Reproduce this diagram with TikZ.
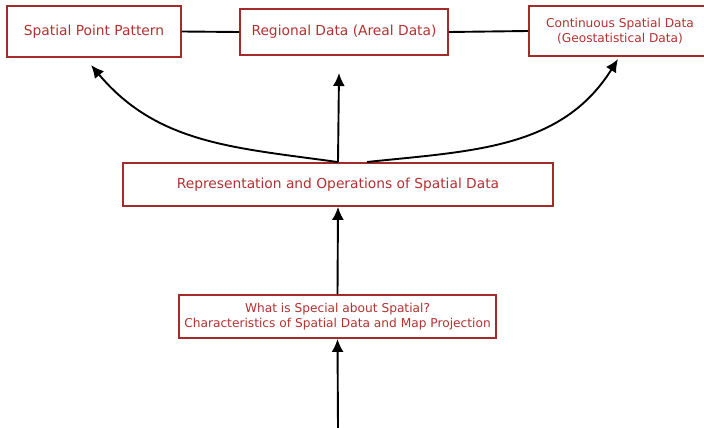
\documentclass[tikz,border=0pt]{standalone}
\usepackage{fontspec}
\setmainfont{DejaVu Sans}
\usetikzlibrary{arrows.meta}

\definecolor{boxred}{RGB}{165,42,42}
\definecolor{textred}{RGB}{178,48,48}

\begin{document}
\begin{tikzpicture}[x=1pt, y=-1pt,
  topic/.style={draw=boxred, line width=1.8pt, text=textred, inner sep=0pt, align=center},
  big/.style={font=\fontsize{13.8}{16}\selectfont},
  small/.style={font=\fontsize{12.2}{15.5}\selectfont},
  link/.style={line width=1.9pt, black},
  up/.style={link, -{Latex[length=13pt,width=12pt]}}]

  % 枠
  \useasboundingbox (0,0) rectangle (704,428);

  % 上段
  \node[topic, big, minimum width=174pt, minimum height=51pt] (spp) at (94,31.5) {Spatial Point Pattern};
  \node[topic, big, minimum width=208pt, minimum height=46pt] (areal) at (344,32) {Regional Data (Areal Data)};
  \node[topic, small, minimum width=182pt, minimum height=50pt] (geo) at (620,31) {Continuous Spatial Data\\(Geostatistical Data)};

  % 中段・下段
  \node[topic, big, minimum width=430pt, minimum height=43pt] (rep) at (338,184.5) {Representation and Operations of Spatial Data};
  \node[topic, small, minimum width=317pt, minimum height=43pt] (special) at (337.5,316.5) {What is Special about Spatial?\\Characteristics of Spatial Data and Map Projection};

  % 点
  \coordinate (start) at (338,428); % 下端
  \coordinate (A) at (91,65);       % 左の矢印
  \coordinate (B) at (339,73);      % 中央の矢印
  \coordinate (C) at (618,59);      % 右の矢印
  \coordinate (R) at (367,162);     % 右の曲線の始点

  % 線
  \draw[link] (spp.east) -- (areal.west);
  \draw[link] (areal.east) -- (geo.west);
  \draw[up] (start) -- (special.south);
  \draw[up] (special.north) -- (rep.south);
  \draw[up] (rep.north) -- (B);
  \draw[up] (rep.north) to[out=172, in=-50] (A);
  \draw[up] (R) to[out=6, in=-122] (C);

\end{tikzpicture}
\end{document}
